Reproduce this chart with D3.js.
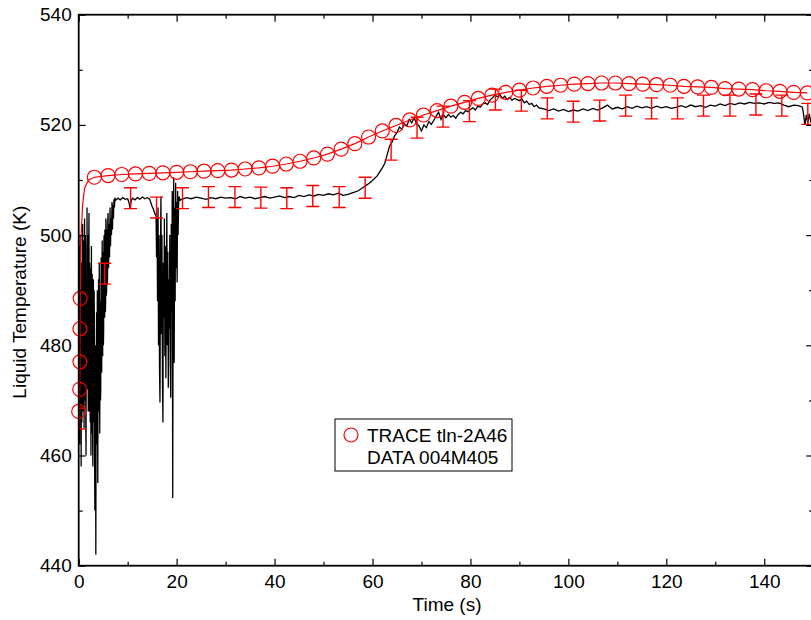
<!DOCTYPE html>
<html>
<head>
<meta charset="utf-8">
<script src="https://cdn.jsdelivr.net/npm/d3@7"></script>
<style>
  body { margin: 0; background: #fff; }
  text { font-family: "Liberation Sans", Arial, sans-serif; }
</style>
</head>
<body>
<div id="chart"></div>
<script>
// TRACE tln-2A46 : markers (time s, liquid temperature K)
const traceMarkT = [0, 0.2, 0.25, 0.25, 0.3, 3.2, 6.0, 8.8, 11.6, 14.4, 17.2, 20.0, 22.8, 25.6, 28.4, 31.2, 34.0, 36.8, 39.6,
  42.4, 45.2, 48.0, 50.8, 53.6, 56.4, 59.2, 62.0, 64.8, 67.6, 70.4, 73.2, 76.0, 78.8, 81.6, 84.4, 87.2, 90.0, 92.8, 95.6,
  98.4, 101.2, 104.0, 106.8, 109.6, 112.4, 115.2, 118.0, 120.8, 123.6, 126.4, 129.2, 132.0, 134.8, 137.6, 140.4, 143.2,
  146.0, 148.8];
const traceMarkK = [468, 472, 477, 483, 488.5, 510.5, 510.8, 511.0, 511.1, 511.2, 511.3, 511.4, 511.5, 511.6, 511.7, 511.8,
  512.0, 512.2, 512.5, 512.9, 513.4, 514.0, 514.7, 515.6, 516.6, 517.8, 518.9, 519.9, 520.9, 521.8, 522.6, 523.4, 524.1,
  524.8, 525.4, 525.9, 526.3, 526.7, 527.0, 527.2, 527.4, 527.5, 527.6, 527.6, 527.5, 527.4, 527.3, 527.2, 527.0, 526.9,
  526.8, 526.6, 526.5, 526.4, 526.2, 526.1, 525.9, 525.8];
// extra TRACE line points on the initial ramp (no marker)
const traceRampT = [0.5, 0.8, 1.2, 2.0];
const traceRampK = [500, 505.5, 508.5, 510];

// measurement uncertainty bars (time s, centre K, half-width K)
const barT = [0.1, 5.3, 10.6, 15.9, 21.2, 26.5, 31.9, 37.2, 42.5, 47.8, 53.2, 58.5, 63.8, 69.1, 74.4, 79.8, 85.1, 90.4,
  95.7, 101.0, 106.4, 111.7, 117.0, 122.3, 127.6, 133.0, 138.3, 143.6, 148.9];
const barK = [466.7, 493.0, 506.7, 505.0, 506.7, 506.9, 506.9, 506.8, 506.7, 507.1, 506.9, 508.6, 515.5, 519.5, 521.5,
  522.5, 524.6, 524.4, 523.0, 522.4, 522.6, 523.5, 523.0, 523.0, 523.5, 523.5, 523.7, 523.5, 522.0];
const barHalf = 1.9;

// DATA 004M405 : measured liquid temperature [time s, K]
const dataPoints = [
  [0.0, 480], [0.05, 492], [0.1, 498], [0.15, 470], [0.2, 462], [0.25, 488], [0.3, 500], [0.35, 476], [0.4, 470],
  [0.45, 494], [0.5, 458], [0.55, 480], [0.6, 495], [0.65, 466], [0.7, 475], [0.75, 497], [0.8, 502], [0.85, 474],
  [0.9, 468], [0.95, 499], [1.0, 490], [1.05, 472], [1.1, 465], [1.15, 496], [1.2, 503], [1.25, 470], [1.3, 478],
  [1.35, 500], [1.4, 497], [1.45, 466], [1.5, 460], [1.55, 492], [1.6, 488], [1.65, 474], [1.7, 505], [1.75, 484],
  [1.8, 472], [1.85, 500], [1.9, 494], [1.95, 468], [2.0, 480], [2.05, 498], [2.1, 504], [2.15, 476], [2.2, 468],
  [2.25, 495], [2.3, 490], [2.35, 466], [2.4, 476], [2.45, 494], [2.5, 460], [2.55, 482], [2.6, 498], [2.65, 464],
  [2.7, 470], [2.75, 493], [2.8, 487], [2.85, 462], [2.9, 458], [2.95, 486], [3.0, 492], [3.05, 470], [3.1, 466],
  [3.15, 490], [3.2, 485], [3.25, 460], [3.3, 450], [3.35, 476], [3.4, 480], [3.45, 458], [3.5, 442], [3.55, 470],
  [3.6, 478], [3.65, 486], [3.7, 462], [3.75, 474], [3.8, 490], [3.85, 470], [3.9, 455], [3.95, 476], [4.0, 484],
  [4.05, 492], [4.1, 468], [4.15, 480], [4.2, 495], [4.25, 476], [4.3, 464], [4.35, 482], [4.4, 488], [4.45, 470],
  [4.5, 472], [4.55, 490], [4.6, 496], [4.65, 480], [4.7, 475], [4.75, 492], [4.8, 499], [4.85, 484], [4.9, 478],
  [4.95, 497], [5.0, 494], [5.05, 480], [5.1, 483], [5.15, 499], [5.2, 500], [5.25, 488], [5.3, 485], [5.35, 501],
  [5.4, 498], [5.45, 486], [5.5, 488], [5.55, 503], [5.6, 502], [5.65, 489], [5.7, 490], [5.75, 501], [5.8, 499],
  [5.85, 491], [5.9, 493], [5.95, 503], [6.0, 504], [6.1, 494], [6.2, 502], [6.3, 496], [6.4, 505], [6.5, 498],
  [6.6, 503], [6.7, 500], [6.8, 506], [6.9, 501], [7.0, 505.5], [7.1, 503], [7.2, 506.5], [7.3, 505], [7.4, 506.8],
  [7.5, 506.3],
  [8.0, 506.7], [8.5, 506.4], [9.0, 506.8], [9.5, 506.5], [10.0, 506.6], [10.3, 505.8], [10.5, 504.8], [10.7, 506.2],
  [11.0, 506.7], [11.5, 506.4], [12.0, 506.8], [12.5, 506.5], [13.0, 506.9], [13.5, 506.6], [14.0, 506.8], [14.5, 506.5],
  [15.0, 505.2], [15.3, 504.6], [15.6, 503.8],
  [15.8, 503.5], [15.9, 496], [16.0, 503], [16.1, 488], [16.2, 505], [16.3, 480], [16.4, 500], [16.5, 476], [16.6, 469.6],
  [16.7, 498], [16.8, 507], [16.9, 482], [17.0, 500], [17.1, 474], [17.2, 466], [17.3, 495], [17.4, 485], [17.5, 503],
  [17.6, 478], [17.7, 498], [17.8, 474], [17.9, 490], [18.0, 504], [18.1, 480], [18.2, 497], [18.3, 472.3], [18.4, 492],
  [18.5, 483], [18.6, 500], [18.7, 476], [18.8, 470.5], [18.9, 502], [19.0, 486], [19.1, 508], [19.2, 452.3], [19.3, 496],
  [19.4, 510.5], [19.5, 476.8], [19.6, 505], [19.7, 488], [19.8, 509.5], [19.9, 494], [20.0, 506], [20.1, 491.4],
  [20.2, 508], [20.3, 500], [20.4, 505.5], [20.5, 507], [20.7, 506.3],
  [21, 506.5], [22, 506.8], [23, 506.6], [24, 506.9], [25, 506.7], [26, 506.5], [27, 506.8], [28, 506.6], [29, 506.9],
  [30, 506.7], [31, 506.8], [32, 506.6], [33, 507.0], [34, 506.7], [35, 506.9], [36, 506.6], [37, 506.8], [38, 507.0],
  [39, 506.7], [40, 506.9], [41, 507.1], [42, 506.8], [43, 507.0], [44, 506.8], [45, 507.2], [46, 507.0], [47, 507.3],
  [48, 507.1], [49, 507.4], [50, 507.2], [51, 507.5], [52, 507.3], [53, 507.6], [54, 507.2], [55, 507.4], [56, 507.7],
  [57, 508.0], [58, 508.6], [59, 509.2], [60, 509.9], [61, 510.8], [62, 512.2], [62.5, 513.0], [63, 514.6], [63.5, 516.2],
  [64, 516.9], [64.5, 518.0], [65, 518.6], [65.5, 519.6], [66, 519.2], [66.5, 520.2], [67, 519.8], [67.5, 521.0],
  [68, 520.4], [68.5, 521.3], [69, 520.2], [69.5, 519.8], [70, 518.9], [70.5, 520.0], [71, 519.5], [71.5, 520.6],
  [72, 520.1], [72.5, 520.8], [73, 521.6], [73.5, 522.3], [74, 521.0], [74.5, 521.8], [75, 521.3], [75.5, 521.9],
  [76, 521.4], [76.5, 521.7], [77, 521.2], [77.5, 521.9], [78, 522.3], [78.5, 522.0], [79, 522.6], [79.5, 522.4],
  [80, 522.8], [80.5, 523.1], [81, 522.7], [81.5, 523.4], [82, 523.2], [82.5, 523.8], [83, 524.0], [83.5, 523.7],
  [84, 524.5], [84.5, 524.9], [85, 525.4], [85.5, 525.1], [86, 525.5], [86.5, 524.8], [87, 525.2], [87.5, 524.6],
  [88, 525.0], [88.5, 524.5], [89, 524.8], [90, 524.4], [90.5, 524.7], [91, 524.0], [91.5, 524.3], [92, 523.7],
  [92.5, 523.9], [93, 523.3], [93.5, 523.6], [94, 523.1], [95, 522.9], [96, 522.6], [97, 522.9], [98, 522.5], [99, 522.8],
  [100, 522.4], [101, 522.7], [102, 522.5], [103, 522.9], [104, 522.6], [105, 523.0], [106, 522.7], [107, 523.1],
  [108, 523.6], [108.5, 523.2], [109, 522.9], [110, 523.2], [111, 522.9], [112, 523.3], [113, 523.0], [114, 523.4],
  [115, 523.1], [116, 523.3], [117, 523.0], [118, 523.4], [119, 523.1], [120, 523.3], [121, 523.0], [122, 523.2],
  [123, 523.5], [124, 523.2], [125, 523.6], [126, 523.3], [127, 523.5], [128, 523.2], [129, 523.6], [130, 523.4],
  [131, 523.8], [132, 523.5], [133, 523.9], [134, 523.7], [135, 524.0], [136, 523.8], [137, 524.1], [138, 523.9],
  [139, 524.0], [140, 523.8], [141, 524.1], [142, 523.9], [143, 524.0], [144, 523.6], [145, 523.3], [146, 523.6],
  [147, 523.5], [147.8, 523.2], [148.1, 521.5], [148.3, 520.0], [148.6, 521.8], [148.9, 520.3], [149.2, 522.0],
  [149.5, 520.6], [150, 521.3]
];

const xMajor = [0, 20, 40, 60, 80, 100, 120, 140];
const xMinor = [10, 30, 50, 70, 90, 110, 130, 150];
const yMajor = [440, 460, 480, 500, 520, 540];
const yMinor = [450, 470, 490, 510, 530];
const legendLabels = ["TRACE tln-2A46", "DATA 004M405"];

// set the dimensions and margins of the graph
const margin = {top: 14.7, left: 78.7},
    width = 734.5,
    height = 551;

const svg = d3.select("#chart")
  .append("svg")
    .attr("width", 811)
    .attr("height", 620)
  .append("g")
    .attr("transform", `translate(${margin.left}, ${margin.top})`);

const x = d3.scaleLinear().domain([0, 150]).range([0, width]);
const y = d3.scaleLinear().domain([440, 540]).range([height, 0]);

// clip for data lines and bars
svg.append("clipPath").attr("id", "plotclip")
  .append("rect").attr("x", 0).attr("y", 0).attr("width", width).attr("height", height);

const plot = svg.append("g").attr("clip-path", "url(#plotclip)");

// measured data line
const line = d3.line().x(d => x(d[0])).y(d => y(d[1]));
plot.append("path")
  .attr("d", line(dataPoints))
  .attr("fill", "none")
  .attr("stroke", "#000")
  .attr("stroke-width", 1.3);

// error bars
const bars = plot.selectAll("g.bar")
  .data(barT.map((t, i) => ({t: t, k: barK[i]})))
  .join("g").attr("class", "bar")
    .attr("stroke", "#ff0000")
    .attr("stroke-width", 1.4);
bars.append("line")
  .attr("x1", d => x(d.t)).attr("x2", d => x(d.t))
  .attr("y1", d => y(d.k - barHalf)).attr("y2", d => y(d.k + barHalf));
bars.append("line")
  .attr("x1", d => x(d.t) - 6.5).attr("x2", d => x(d.t) + 6.5)
  .attr("y1", d => y(d.k + barHalf)).attr("y2", d => y(d.k + barHalf));
bars.append("line")
  .attr("x1", d => x(d.t) - 6.5).attr("x2", d => x(d.t) + 6.5)
  .attr("y1", d => y(d.k - barHalf)).attr("y2", d => y(d.k - barHalf));

// TRACE line + markers
const tracePts = traceMarkT.map((t, i) => [t, traceMarkK[i]])
  .concat(traceRampT.map((t, i) => [t, traceRampK[i]]))
  .sort((a, b) => a[0] - b[0] || a[1] - b[1]);
plot.append("path")
  .attr("d", line(tracePts))
  .attr("fill", "none")
  .attr("stroke", "#ff0000")
  .attr("stroke-width", 1.2);

// markers are not clipped (they overlap the left axis)
svg.selectAll("circle.mk")
  .data(traceMarkT.map((t, i) => [t, traceMarkK[i]]))
  .join("circle").attr("class", "mk")
    .attr("cx", d => x(d[0]))
    .attr("cy", d => y(d[1]))
    .attr("r", 7)
    .attr("fill", "none")
    .attr("stroke", "#ff0000")
    .attr("stroke-width", 1.2);

// axes (ticks point inward)
const fs = "19px";
const gx = svg.append("g").attr("transform", `translate(0, ${height})`)
  .call(d3.axisBottom(x).tickValues(xMajor).tickSizeInner(-7).tickSizeOuter(0).tickPadding(8.5).tickFormat(d3.format("d")));
gx.append("g").call(d3.axisBottom(x).tickValues(xMinor).tickSizeInner(-4).tickSizeOuter(0).tickFormat(""));
const gxt = svg.append("g")
  .call(d3.axisTop(x).tickValues(xMajor).tickSizeInner(-7).tickSizeOuter(0).tickFormat(""));
gxt.append("g").call(d3.axisTop(x).tickValues(xMinor).tickSizeInner(-4).tickSizeOuter(0).tickFormat(""));

const gy = svg.append("g")
  .call(d3.axisLeft(y).tickValues(yMajor).tickSizeInner(-7).tickSizeOuter(0).tickPadding(7).tickFormat(d3.format("d")));
gy.append("g").call(d3.axisLeft(y).tickValues(yMinor).tickSizeInner(-4).tickSizeOuter(0).tickFormat(""));
const gyr = svg.append("g").attr("transform", `translate(${width}, 0)`)
  .call(d3.axisRight(y).tickValues(yMajor).tickSizeInner(-7).tickSizeOuter(0).tickFormat(""));
gyr.append("g").call(d3.axisRight(y).tickValues(yMinor).tickSizeInner(-4).tickSizeOuter(0).tickFormat(""));

svg.selectAll(".domain").remove();
svg.selectAll(".tick line").attr("stroke", "#000").attr("stroke-width", 1.2);
svg.selectAll(".tick text").style("font-size", fs).attr("fill", "#000");

// frame
svg.append("rect")
  .attr("width", width).attr("height", height)
  .attr("fill", "none").attr("stroke", "#000").attr("stroke-width", 1.8);

// axis titles
svg.append("text")
  .attr("x", 447 - margin.left).attr("y", height + 45.5)
  .style("text-anchor", "middle").style("font-size", fs)
  .text("Time (s)");
svg.append("text")
  .attr("transform", `translate(${26 - margin.left}, ${height / 2 + 12}) rotate(-90)`)
  .style("text-anchor", "middle").style("font-size", fs)
  .text("Liquid Temperature (K)");

// legend
const lg = svg.append("g").attr("transform", `translate(${335 - margin.left}, ${419 - margin.top})`);
lg.append("rect").attr("width", 177).attr("height", 52)
  .attr("fill", "#fff").attr("stroke", "#000").attr("stroke-width", 1);
lg.append("circle").attr("cx", 16).attr("cy", 16).attr("r", 7)
  .attr("fill", "none").attr("stroke", "#ff0000").attr("stroke-width", 1.2);
lg.selectAll("text.lt")
  .data(legendLabels)
  .join("text").attr("class", "lt")
    .attr("x", 32)
    .attr("y", (d, i) => 23 + i * 22)
    .style("font-size", fs)
    .text(d => d);
</script>
</body>
</html>
